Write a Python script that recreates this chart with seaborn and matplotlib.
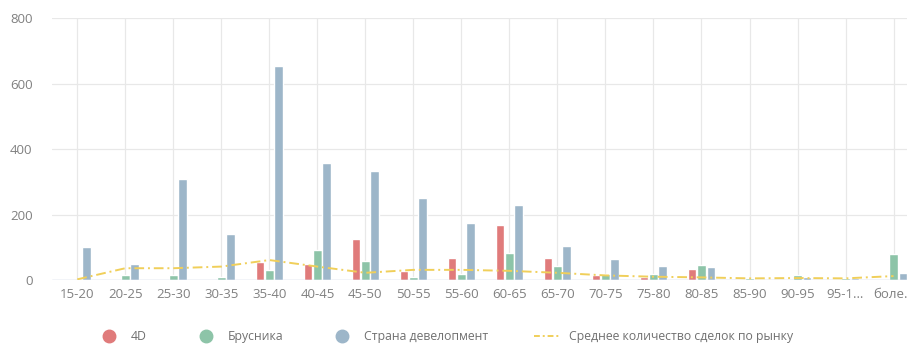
import matplotlib
matplotlib.use("Agg")
import matplotlib.pyplot as plt
import seaborn as sns
import pandas as pd
import numpy as np
from matplotlib.lines import Line2D

categories = ["15-20", "20-25", "25-30", "30-35", "35-40", "40-45", "45-50", "50-55",
              "55-60", "60-65", "65-70", "70-75", "75-80", "80-85", "85-90", "90-95",
              "95-1…", "боле…"]
series_names = ["4D", "Брусника", "Страна девелопмент"]
vals_4d = [0, 0, 0, 0, 56, 48, 124, 28, 66, 168, 66, 15, 8, 33, 2, 3, 2, 0]
vals_brusnika = [0, 15, 15, 10, 30, 92, 58, 10, 18, 83, 44, 18, 18, 46, 5, 15, 5, 78]
vals_strana = [102, 48, 310, 140, 653, 358, 333, 251, 173, 229, 105, 63, 44, 41, 3, 10, 5, 22]
avg_market = [2, 36, 36, 41, 61, 41, 22, 31, 31, 28, 22, 14, 10, 8, 5, 6, 5, 12]
avg_name = "Среднее количество сделок по рынку"

colors = ["#e07b7b", "#8dc4a8", "#9db6c9"]
line_color = "#f0cf5a"

rows = []
for name, vals in zip(series_names, [vals_4d, vals_brusnika, vals_strana]):
    for c, v in zip(categories, vals):
        rows.append({"cat": c, "series": name, "value": v})
df = pd.DataFrame(rows)

sns.set_theme(style="white")
plt.rcParams['font.family'] = ['Open Sans', 'DejaVu Sans']

fig = plt.figure(figsize=(9.07, 3.45), dpi=100)
ax = fig.add_axes([52/907, 1-280/345, 1-52/907, (280-18.3)/345])

sns.barplot(data=df, x="cat", y="value", hue="series", order=categories,
            hue_order=series_names, palette=colors, width=0.58, gap=0.08,
            ax=ax, legend=False, saturation=1)

ax.plot(np.arange(len(categories)), avg_market, color=line_color, lw=1.4,
        linestyle=(0, (5, 2, 1, 2)), zorder=4)

ax.set_xlim(-0.527, 17.28)
ax.set_ylim(0, 800)
ax.set_yticks([0, 200, 400, 600, 800])
ax.set_xlabel("")
ax.set_ylabel("")
ax.grid(True, axis="both", color="#e8e8e8", lw=0.9)
ax.set_axisbelow(True)
for s in ax.spines.values():
    s.set_visible(False)
ax.axhline(0, color="#ccd6eb", lw=1, zorder=1)
ax.tick_params(axis="both", length=0, labelsize=9.5, labelcolor="#808080")
ax.tick_params(axis="y", pad=14)
ax.tick_params(axis="x", pad=6)

handles = [Line2D([0], [0], marker="o", ls="", markersize=9, markerfacecolor=c,
                  markeredgecolor=c) for c in colors]
handles.append(Line2D([0], [0], color=line_color, lw=1.4, linestyle=(0, (3, 1.5, 1, 1.5))))
fig.legend(handles, series_names + [avg_name], loc="center", bbox_to_anchor=(0.49, 0.025),
           ncol=4, frameon=False, fontsize=8.8, labelcolor="#707070",
           columnspacing=3.7, handletextpad=0.7, handlelength=2.2)

fig.savefig("out.png", dpi=100)
